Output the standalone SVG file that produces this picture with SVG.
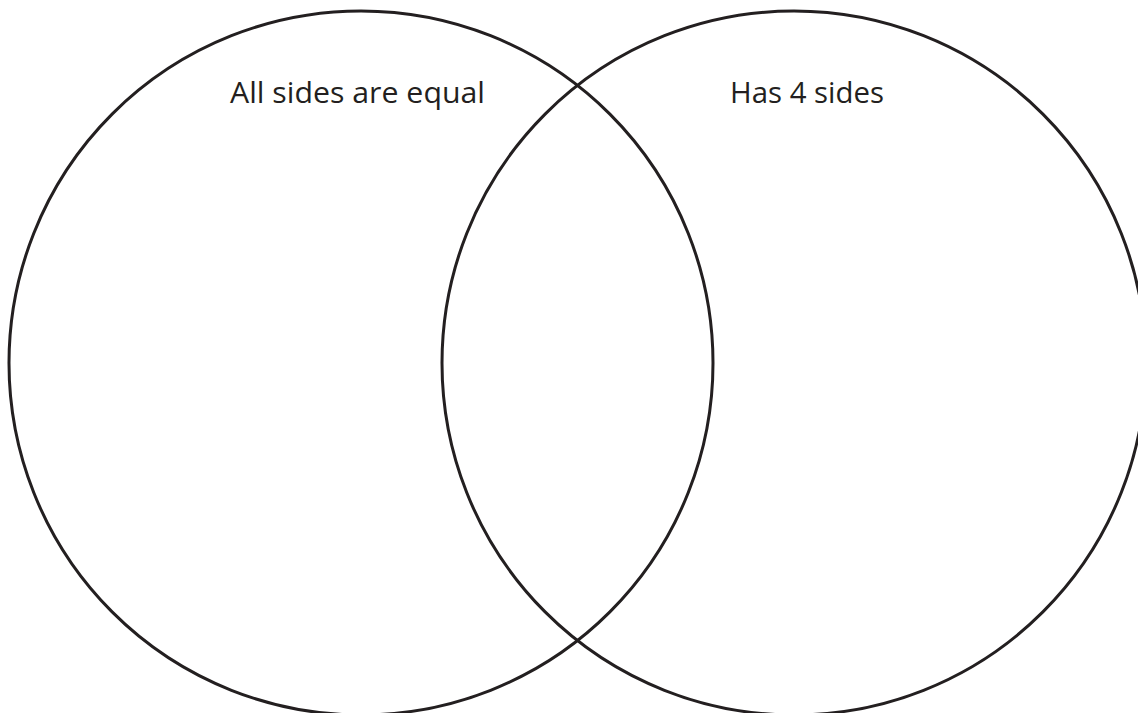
<svg xmlns="http://www.w3.org/2000/svg" width="1138" height="713" viewBox="0 0 1138 713">
  <style>
    .ring { fill: none; stroke: #231f20; stroke-width: 3; }
    .label { font-family: "Open Sans", "Liberation Sans", sans-serif; font-size: 29px; fill: #231f20; }
  </style>
  <rect x="0" y="0" width="1138" height="713" fill="#ffffff"/>
  <g id="set-equal-sides">
    <circle class="ring" cx="361" cy="363" r="352"/>
    <text class="label" x="230" y="103" textLength="255" lengthAdjust="spacingAndGlyphs">All sides are equal</text>
  </g>
  <g id="set-four-sides">
    <circle class="ring" cx="794" cy="363" r="352"/>
    <text class="label" x="730" y="103" textLength="154" lengthAdjust="spacingAndGlyphs">Has 4 sides</text>
  </g>
  <g id="connectors"></g>
</svg>
